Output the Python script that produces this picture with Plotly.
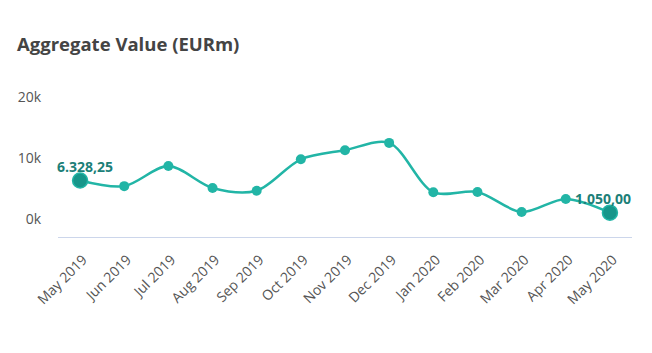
import plotly.graph_objects as go

months = ["May 2019", "Jun 2019", "Jul 2019", "Aug 2019", "Sep 2019", "Oct 2019",
          "Nov 2019", "Dec 2019", "Jan 2020", "Feb 2020", "Mar 2020", "Apr 2020", "May 2020"]
values = [6328.25, 5400, 8700, 5100, 4650, 9800, 11300, 12500, 4400, 4450, 1150, 3300, 1050.00]
label_idx = [0, 12]
label_text = ["6.328,25", "1.050,00"]
ytick_vals = [0, 10000, 20000]
ytick_text = ["0k", "10k", "20k"]

teal = "#22b5a6"
dark = "#17968a"
font = "Open Sans"

fig = go.Figure()
fig.add_trace(go.Scatter(
    x=months, y=values, mode="lines+markers",
    line=dict(color=teal, width=2.5, shape="spline", smoothing=0.9),
    marker=dict(color=teal, size=10),
    hoverinfo="skip", cliponaxis=False,
))
fig.add_trace(go.Scatter(
    x=[months[i] for i in label_idx], y=[values[i] for i in label_idx],
    mode="markers",
    marker=dict(color=dark, size=15, line=dict(color=teal, width=1.5)),
    hoverinfo="skip", cliponaxis=False,
))
shifts = [5, -7]
for i, t, sx in zip(label_idx, label_text, shifts):
    fig.add_annotation(
        x=months[i], y=values[i], text=f"<b>{t}</b>", showarrow=False,
        xanchor="center", yanchor="middle", xshift=sx, yshift=14,
        font=dict(family=font, size=14, color="#1c7f78"),
    )

fig.update_layout(
    width=652, height=353,
    margin=dict(l=58, r=20, t=85, b=116),
    paper_bgcolor="white", plot_bgcolor="white",
    showlegend=False,
    font=dict(family=font, color="#555555", size=14),
    title=dict(text="<b>Aggregate Value (EURm)</b>", xref="container", x=17/652, xanchor="left",
               y=1-45/353, yanchor="middle",
               font=dict(family=font, size=18.5, color="#444444")),
)
fig.update_xaxes(
    type="category", range=[-0.5, 12.5], tickangle=-45,
    showgrid=False, showline=True, linecolor="#ccd6eb", linewidth=1,
    ticks="", tickfont=dict(family=font, size=14, color="#555555"),
    ticklabelstandoff=8, ticklabelshift=3,
    zeroline=False, fixedrange=True,
)
fig.update_yaxes(
    range=[-2950, 22000], tickvals=ytick_vals, ticktext=ytick_text,
    showgrid=False, zeroline=False, showline=False, ticks="",
    tickfont=dict(family=font, size=14, color="#555555"),
    ticklabelstandoff=16,
)
fig.write_html("out.html")
